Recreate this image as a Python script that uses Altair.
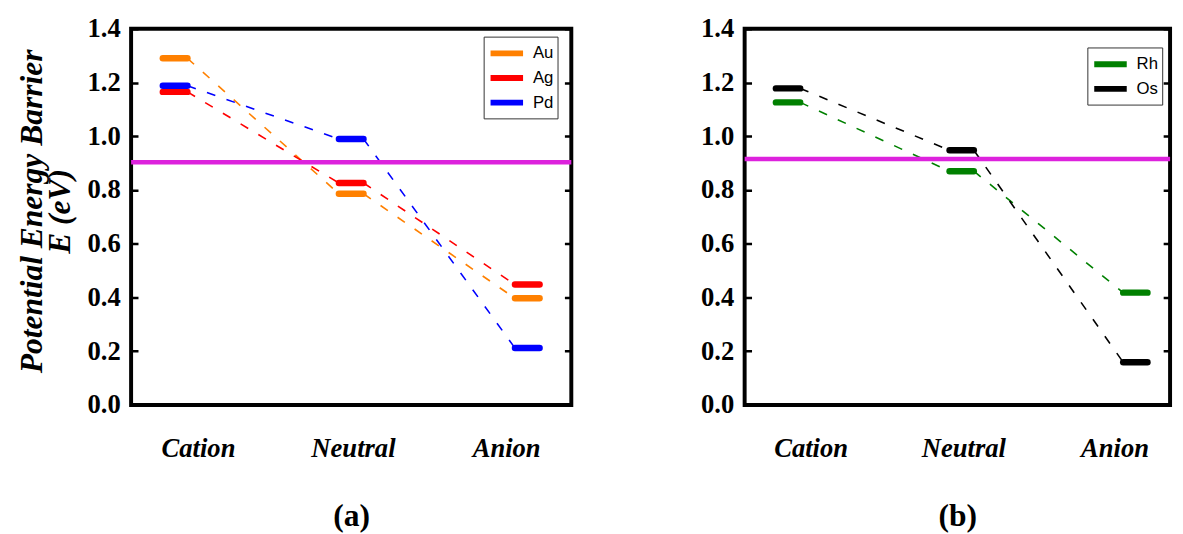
import altair as alt
import pandas as pd

categories = ["Cation", "Neutral", "Anion"]

series_a = ["Au", "Ag", "Pd"]
au = [1.290, 0.786, 0.397]
ag = [1.165, 0.826, 0.448]
pd_vals = [1.188, 0.990, 0.212]
threshold_a = 0.903

series_b = ["Rh", "Os"]
rh = [1.126, 0.870, 0.418]
os_vals = [1.178, 0.948, 0.159]
threshold_b = 0.915

colors_a = ["#FF8000", "#FF0000", "#0000FF"]
colors_b = ["#008000", "#000000"]
y_ticks = [0, 0.2, 0.4, 0.6, 0.8, 1.0, 1.2, 1.4]
label_pos = [1.13, 2.01, 2.88]

HALF = 0.07
W_A, W_B, H = 447, 432, 382
SERIF = "Liberation Serif"


def tables(names, values):
    bars, links = [], []
    for name, vals in zip(names, values):
        for i, v in enumerate(vals):
            pos = i + 1
            bars.append(dict(series=name, category=categories[i],
                             lo=pos - HALF, hi=pos + HALF, value=v))
        for i in range(len(vals) - 1):
            seg = f"{name}-{i}"
            links.append(dict(series=name, seg=seg, x=i + 1 + HALF, value=vals[i], order=0))
            links.append(dict(series=name, seg=seg, x=i + 2 - HALF, value=vals[i + 1], order=1))
    return pd.DataFrame(bars), pd.DataFrame(links)


label_expr = (f"datum.value < 1.5 ? '{categories[0]}' : "
              f"(datum.value < 2.5 ? '{categories[1]}' : '{categories[2]}')")


def panel(names, values, colors, thr, width, x_max, letter, leg_x, leg_y, ytitle):
    bars, links = tables(names, values)
    xs = alt.Scale(domain=[0.75, x_max], nice=False, zero=False)
    ys = alt.Scale(domain=[0, 1.4], nice=False, zero=False)

    x_axis = alt.Axis(values=label_pos, labelExpr=label_expr, domain=False, ticks=False,
                      grid=False, labelFont=SERIF, labelFontStyle="italic",
                      labelFontWeight="bold", labelFontSize=27, labelPadding=31,
                      labelColor="black", labelFlush=False, labelOverlap=False,
                      title=letter, titleFont=SERIF, titleFontWeight="bold",
                      titleFontSize=32, titlePadding=40, titleColor="black")
    y_kwargs = dict(values=y_ticks, format=".1f", domain=False, ticks=False,
                    labelFont=SERIF, labelFontWeight="bold", labelFontSize=27,
                    labelColor="black", labelPadding=11, labelFlush=False,
                    grid=True, gridColor="black", gridWidth=2.5, gridOpacity=1,
                    gridDash=[7, width - 14, 7, 3000])
    if ytitle:
        y_axis = alt.Axis(title=ytitle, titleFont=SERIF, titleFontWeight="bold",
                          titleFontStyle="italic", titleFontSize=32, titleLineHeight=28,
                          titlePadding=11, titleColor="black", titleY=H / 2 - 6,
                          **y_kwargs)
    else:
        y_axis = alt.Axis(title=None, **y_kwargs)

    layers = []
    for k, (name, col) in enumerate(zip(names, colors)):
        seg_data = links[links["series"] == name]
        if k == 0:
            xe = alt.X("x:Q", scale=xs, axis=x_axis)
            ye = alt.Y("value:Q", scale=ys, axis=y_axis)
        else:
            xe = alt.X("x:Q", scale=xs)
            ye = alt.Y("value:Q", scale=ys)
        layers.append(alt.Chart(seg_data).mark_line(
            strokeWidth=1.6, strokeDash=[9, 12], color=col).encode(
            x=xe, y=ye, detail="seg:N", order="order:Q"))

    thr_layer = alt.Chart(pd.DataFrame({"t": [thr]})).mark_rule(
        color="#DD22DD", strokeWidth=4.5).encode(y=alt.Y("t:Q", scale=ys))
    bar_layer = alt.Chart(bars).mark_rule(strokeWidth=6.5, strokeCap="round").encode(
        x=alt.X("lo:Q", scale=xs),
        x2="hi:Q",
        y=alt.Y("value:Q", scale=ys),
        color=alt.Color("series:N", scale=alt.Scale(domain=names, range=colors),
                        sort=names,
                        legend=alt.Legend(title=None, orient="none", legendX=leg_x,
                                          legendY=leg_y, symbolType="M-1,0H2.3",
                                          symbolStrokeWidth=6, symbolSize=400,
                                          labelFont="Liberation Sans", labelFontSize=17,
                                          labelColor="black", labelOffset=20,
                                          strokeColor="#333333", fillColor="white",
                                          padding=4, rowPadding=-2)),
    )
    return alt.layer(*layers, thr_layer, bar_layer).properties(width=width, height=H)


pa = panel(series_a, [au, ag, pd_vals], colors_a, threshold_a, W_A, 3.25, "(a)", 358, 8,
           ["Potential Energy Barrier", "E (eV)"])
pb = panel(series_b, [rh, os_vals], colors_b, threshold_b, W_B, 3.2, "(b)", 348, 19, None)

chart = alt.hconcat(pa, pb, spacing=124).resolve_scale(
    color="independent", x="independent", y="independent"
).properties(
    padding={"left": 6, "top": 1, "right": 0, "bottom": 0},
    background="white",
).configure_view(stroke="black", strokeWidth=4)

chart.save("out.html", embed_options={"renderer": "svg", "actions": False})
